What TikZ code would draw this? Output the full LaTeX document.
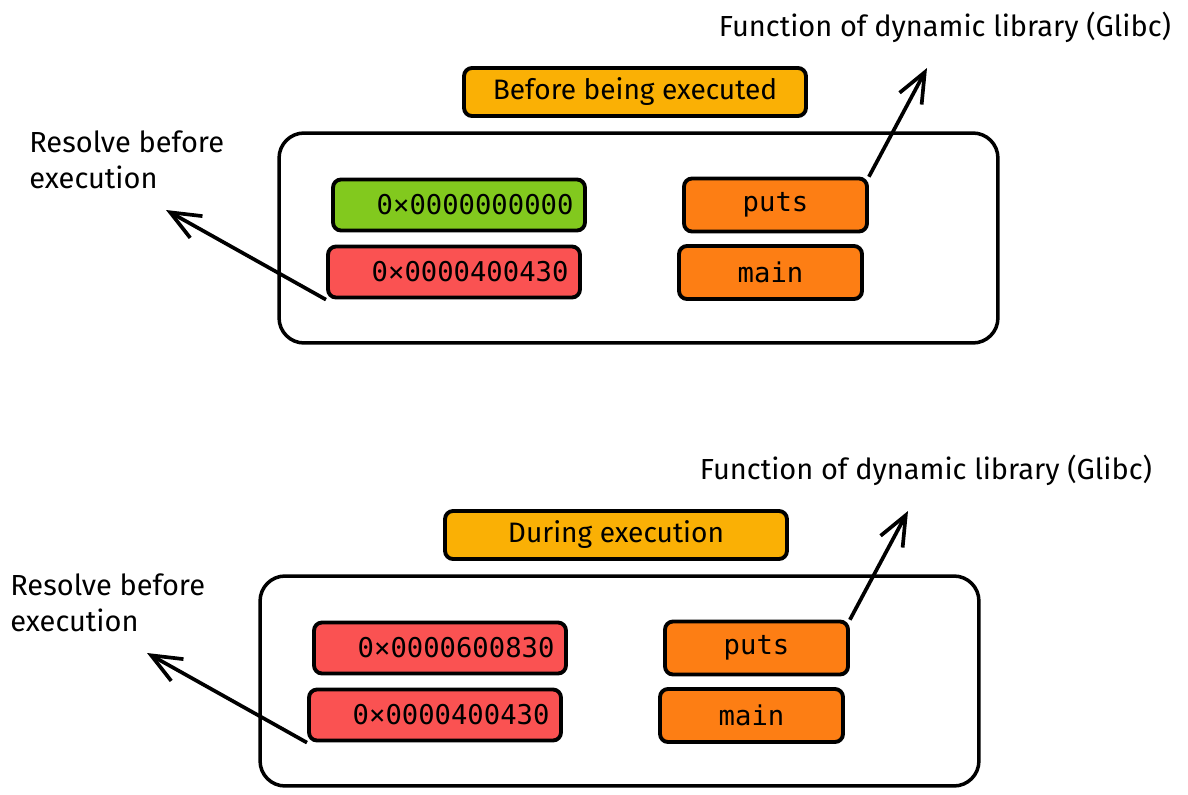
\documentclass[tikz,border=0pt]{standalone}
\usepackage{fontspec}
\setmainfont{Fira Sans}
\setmonofont{DejaVu Sans Mono}
\usetikzlibrary{arrows.meta}

\definecolor{tagyellow}{HTML}{FAB005}
\definecolor{slotgreen}{HTML}{82C91E}
\definecolor{slotred}{HTML}{FA5252}
\definecolor{symorange}{HTML}{FD7E14}

\tikzset{
  panel/.style={draw, line width=2pt, rounded corners=0.5cm, minimum width=14.38cm, minimum height=4.2cm},
  titlebox/.style={draw, fill=tagyellow, line width=2.2pt, rounded corners=0.16cm, minimum width=6.84cm, minimum height=0.96cm, font=\fontsize{16}{20}\selectfont},
  slot/.style={draw, line width=2.2pt, rounded corners=0.16cm, minimum height=1.02cm, text width=4.58cm, inner xsep=0.23cm, align=right, font=\ttfamily\fontsize{15.5}{18}\selectfont},
  symbox/.style={draw, fill=symorange, line width=2.2pt, rounded corners=0.16cm, minimum width=3.66cm, minimum height=1.06cm, font=\ttfamily\fontsize{15.5}{18}\selectfont},
  note/.style={font=\fontsize{16.5}{21}\selectfont, align=left, inner sep=0pt},
  pointer/.style={line width=2.1pt, -{Straight Barb[length=6mm,width=5mm]}},
}

\begin{document}
\begin{tikzpicture}[x=0.02cm, y=-0.02cm]
  \useasboundingbox (0,0) rectangle (1188,795);

  % One panel per stage
  \foreach \dx/\dy/\id/\head/\col/\addr in {0/0/A/Before being executed/slotgreen/0000000000, -19/443/B/During execution/slotred/0000600830} {
    % Labels
    \node[note] (lib\id) at (\dx+945,\dy+27) {Function of dynamic library (Glibc)};
    \node[note, anchor=north west] (why\id) at (\dx+29,\dy+130) {Resolve before\\execution};
    \node[titlebox] (head\id) at (\dx+635,\dy+92) {\head};

    % Memory panel
    \node[panel] (panel\id) at (\dx+638.5,\dy+238) {};
    \node[slot, fill=\col] (got\id) at (\dx+459,\dy+205) {0×\addr};
    \node[slot, fill=slotred] (addr\id) at (\dx+454,\dy+272) {0×0000400430};
    \node[symbox] (puts\id) at (\dx+775.5,\dy+205) {puts};
    \node[symbox] (main\id) at (\dx+770.5,\dy+272.5) {main};

    % Arrows
    \coordinate (up\id) at (\dx+927,\dy+68);
    \coordinate (left\id) at (\dx+166,\dy+210);
    \draw[pointer] ([shift={(-0.04,0.16)}]puts\id.north east) -- (up\id);
    \draw[pointer] ([shift={(-0.1,0.2)}]addr\id.south west) -- (left\id);
  }
\end{tikzpicture}
\end{document}
